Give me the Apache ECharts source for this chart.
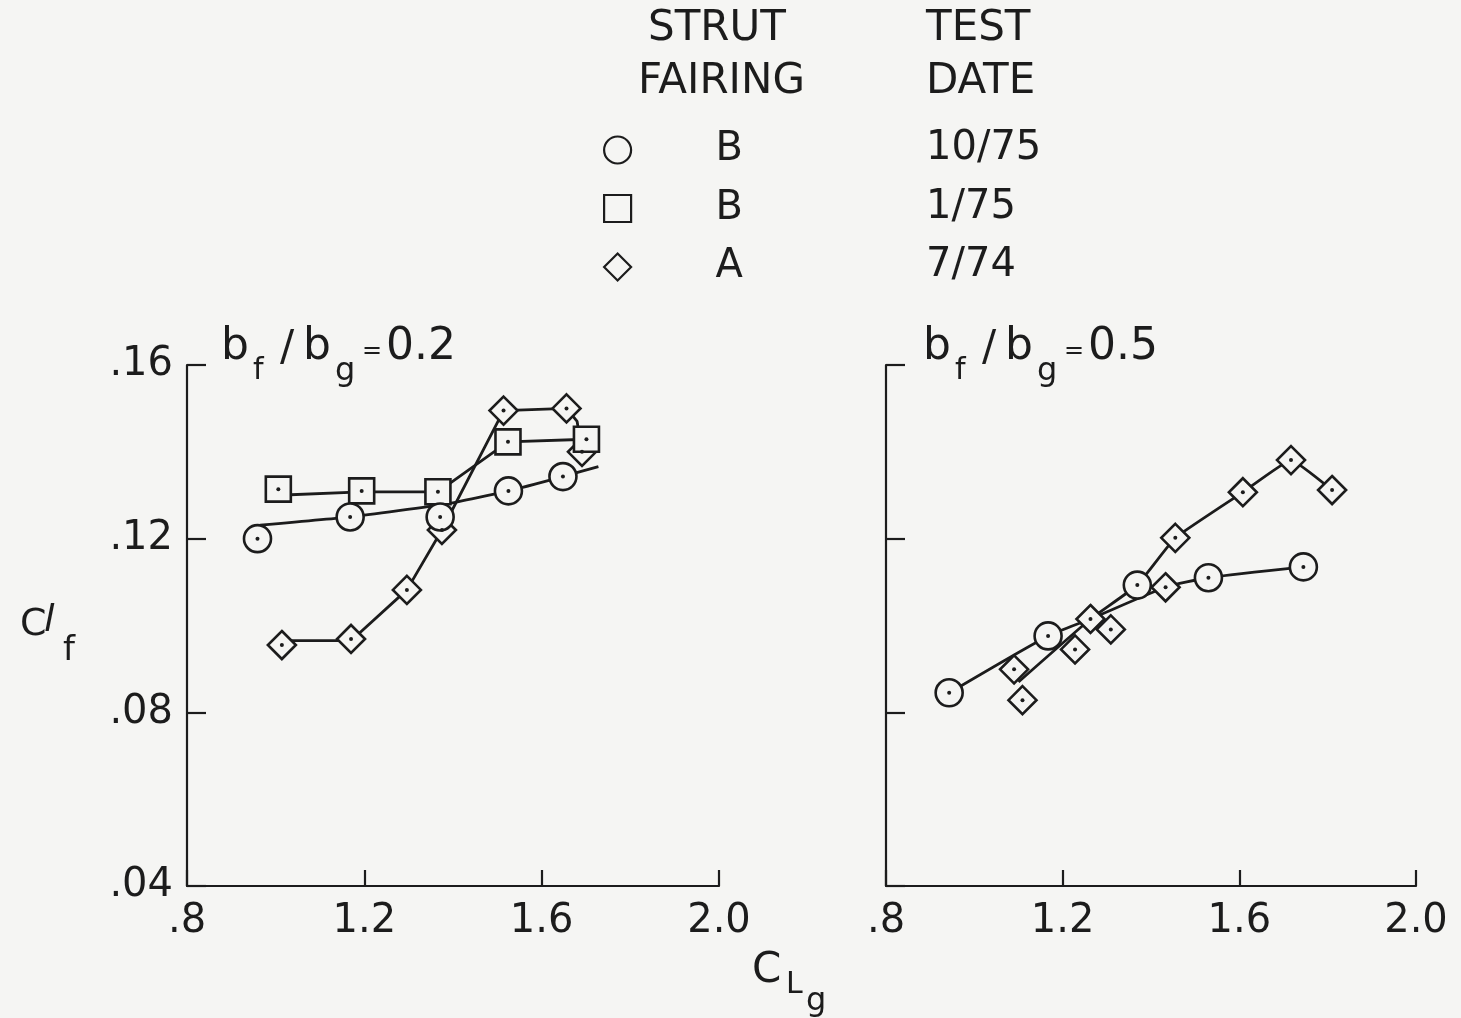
<!DOCTYPE html>
<html>
<head>
<meta charset="utf-8">
<script src="https://cdn.jsdelivr.net/npm/echarts@6/dist/echarts.min.js"></script>
<style>
html,body{margin:0;padding:0;background:#f5f5f3;}
#chart{width:1461px;height:1018px;}
</style>
</head>
<body>
<div id="chart"></div>
<script>
// ---- tick labels ----
const xTickLabels = ['.8', '1.2', '1.6', '2.0'];
const yTickLabels = ['.04', '.08', '.12', '.16'];

// ---- legend ----
const seriesNames = ['B 10/75', 'B 1/75', 'A 7/74'];
const legendIcons = ['circle', 'rect', 'diamond'];
const fairings = ['B', 'B', 'A'];
const testDates = ['10/75', '1/75', '7/74'];

// ---- left panel, bf/bg = 0.2 : [C_Lg, C_lf] ----
const leftCircle = [[0.959, 0.1200], [1.168, 0.1250], [1.371, 0.1250], [1.525, 0.1310], [1.648, 0.1343]];
const leftCircleFit = [[0.965, 0.1231], [1.168, 0.1250], [1.386, 0.1280], [1.525, 0.1310], [1.648, 0.1343], [1.728, 0.1366]];
const leftSquare = [[1.006, 0.1314], [1.194, 0.1310], [1.366, 0.1308], [1.524, 0.1423], [1.701, 0.1429]];
const leftSquareFit = [[1.006, 0.1300], [1.194, 0.1308], [1.366, 0.1308], [1.524, 0.1423], [1.701, 0.1429]];
const leftDiamond = [[1.014, 0.0955], [1.170, 0.0969], [1.296, 0.1082], [1.375, 0.1220], [1.514, 0.1495], [1.656, 0.1500], [1.691, 0.1400]];
const leftDiamondFit = [[1.014, 0.0965], [1.170, 0.0965], [1.296, 0.1082], [1.375, 0.1220], [1.514, 0.1495], [1.656, 0.1500], [1.680, 0.1470], [1.691, 0.1400]];

// ---- right panel, bf/bg = 0.5 ----
const rightCircle = [[0.943, 0.0845], [1.167, 0.0976], [1.369, 0.1093], [1.530, 0.1110], [1.745, 0.1135]];
const rightCircleFit = [[0.943, 0.0845], [1.167, 0.0976], [1.263, 0.1015], [1.433, 0.1088], [1.530, 0.1110], [1.745, 0.1135]];
const rightDiamond = [[1.090, 0.0899], [1.109, 0.0828], [1.228, 0.0945], [1.263, 0.1015], [1.309, 0.0991], [1.433, 0.1088], [1.455, 0.1202], [1.608, 0.1307], [1.717, 0.1381], [1.810, 0.1312]];
const rightDiamondFit = [[1.100, 0.0870], [1.263, 0.1015], [1.369, 0.1093], [1.455, 0.1202], [1.608, 0.1307], [1.717, 0.1381], [1.810, 0.1312]];

const FONT = 'DejaVu Sans';
const INK = '#1c1c1c';
const BG = '#f5f5f3';

function xAxisCfg(gi) {
  return {
    gridIndex: gi, type: 'value', min: 0.8, max: 2.0, interval: 0.4,
    axisLine: { show: true, lineStyle: { color: INK, width: 2.2 } },
    axisTick: { show: true, inside: true, length: 16, lineStyle: { color: INK, width: 2.2 } },
    splitLine: { show: false },
    axisLabel: {
      show: true, margin: 16, color: INK, fontFamily: FONT, fontSize: 40,
      formatter: v => xTickLabels[Math.round((v - 0.8) / 0.4)]
    }
  };
}
function yAxisCfg(gi, showLabels) {
  return {
    gridIndex: gi, type: 'value', min: 0.04, max: 0.16, interval: 0.04,
    axisLine: { show: true, lineStyle: { color: INK, width: 2.2 } },
    axisTick: { show: true, inside: true, length: 19, lineStyle: { color: INK, width: 2.2 } },
    splitLine: { show: false },
    axisLabel: {
      show: showLabels, margin: 14, color: INK, fontFamily: FONT, fontSize: 40,
      formatter: v => yTickLabels[Math.round((v - 0.04) / 0.04)]
    }
  };
}

function fitLine(name, data, gi, smooth) {
  return {
    name: name, type: 'line', xAxisIndex: gi, yAxisIndex: gi, data: data,
    smooth: smooth, showSymbol: false, symbol: 'none', z: 2,
    lineStyle: { color: INK, width: 2.8 }, itemStyle: { color: INK }, silent: true
  };
}
function markers(name, data, symbol, size, gi) {
  return [{
    name: name, type: 'scatter', xAxisIndex: gi, yAxisIndex: gi, data: data,
    symbol: symbol, symbolSize: size, z: 3,
    itemStyle: { color: BG, borderColor: INK, borderWidth: 2.6, opacity: 1 }
  }, {
    name: name + ' dot', type: 'scatter', xAxisIndex: gi, yAxisIndex: gi, data: data,
    symbol: 'circle', symbolSize: 4, z: 4, silent: true,
    itemStyle: { color: INK, opacity: 1 }
  }];
}

function txt(x, y, s, size, italic) {
  return {
    type: 'text', left: x, top: y,
    style: { text: s, fontFamily: FONT, fontSize: size, fill: INK, fontStyle: italic ? 'italic' : 'normal' }
  };
}

const chart = echarts.init(document.getElementById('chart'), null, { renderer: 'canvas' });

const series = [].concat(
  markers(seriesNames[2], leftDiamond, 'diamond', 28, 0),
  markers(seriesNames[1], leftSquare, 'rect', 25, 0),
  markers(seriesNames[0], leftCircle, 'circle', 27, 0),
  markers(seriesNames[2], rightDiamond, 'diamond', 28, 1),
  markers(seriesNames[0], rightCircle, 'circle', 27, 1),
  fitLine(seriesNames[0], leftCircleFit, 0, 0.15),
  fitLine(seriesNames[1], leftSquareFit, 0, false),
  fitLine(seriesNames[2], leftDiamondFit, 0, false),
  fitLine(seriesNames[0], rightCircleFit, 1, 0.2),
  fitLine(seriesNames[2], rightDiamondFit, 1, 0.1)
);

const graphics = [
  // legend headers
  txt(648, 8, 'STRUT', 42),
  txt(638, 61, 'FAIRING', 42),
  txt(926, 8, 'TEST', 42),
  txt(926, 61, 'DATE', 42),
  // left panel label
  txt(221, 326, 'b', 44),
  txt(253, 356, 'f', 30),
  txt(280, 328, '/', 42),
  txt(303, 326, 'b', 44),
  txt(335, 356, 'g', 32),
  txt(362, 340, '=', 24),
  txt(386, 326, '0.2', 44),
  // right panel label
  txt(923, 326, 'b', 44),
  txt(955, 356, 'f', 30),
  txt(982, 328, '/', 42),
  txt(1005, 326, 'b', 44),
  txt(1037, 356, 'g', 32),
  txt(1064, 340, '=', 24),
  txt(1088, 326, '0.5', 44),
  // y axis name C_lf
  txt(20, 606, 'C', 38),
  txt(44, 602, 'l', 38, true),
  txt(63, 634, 'f', 34),
  // x axis name C_Lg
  txt(752, 950, 'C', 42),
  txt(786, 970, 'L', 30),
  txt(806, 986, 'g', 32)
];
// test dates column of the legend
testDates.forEach((d, i) => graphics.push(txt(926, 129 + i * 58.5, d, 40)));

chart.setOption({
  backgroundColor: BG,
  animation: false,
  grid: [
    { left: 187, top: 365, width: 532, height: 521 },
    { left: 886, top: 365, width: 530, height: 521 }
  ],
  xAxis: [xAxisCfg(0), xAxisCfg(1)],
  yAxis: [yAxisCfg(0, true), yAxisCfg(1, false)],
  legend: {
    orient: 'vertical', left: 598, top: 125,
    itemWidth: 27, itemHeight: 27, itemGap: 18.5,
    selectedMode: false,
    data: seriesNames.map((n, i) => ({
      name: n, icon: legendIcons[i],
      itemStyle: { color: BG, borderColor: INK, borderWidth: 2.2, opacity: 1 }
    })),
    formatter: name => '{f|' + fairings[seriesNames.indexOf(name)] + '}',
    textStyle: {
      color: INK, fontFamily: FONT, fontSize: 40, lineHeight: 40,
      rich: {
        f: { width: 186, align: 'center', fontSize: 40, fontFamily: FONT, color: INK, lineHeight: 40 }
      }
    }
  },
  graphic: graphics,
  series: series
});
</script>
</body>
</html>
